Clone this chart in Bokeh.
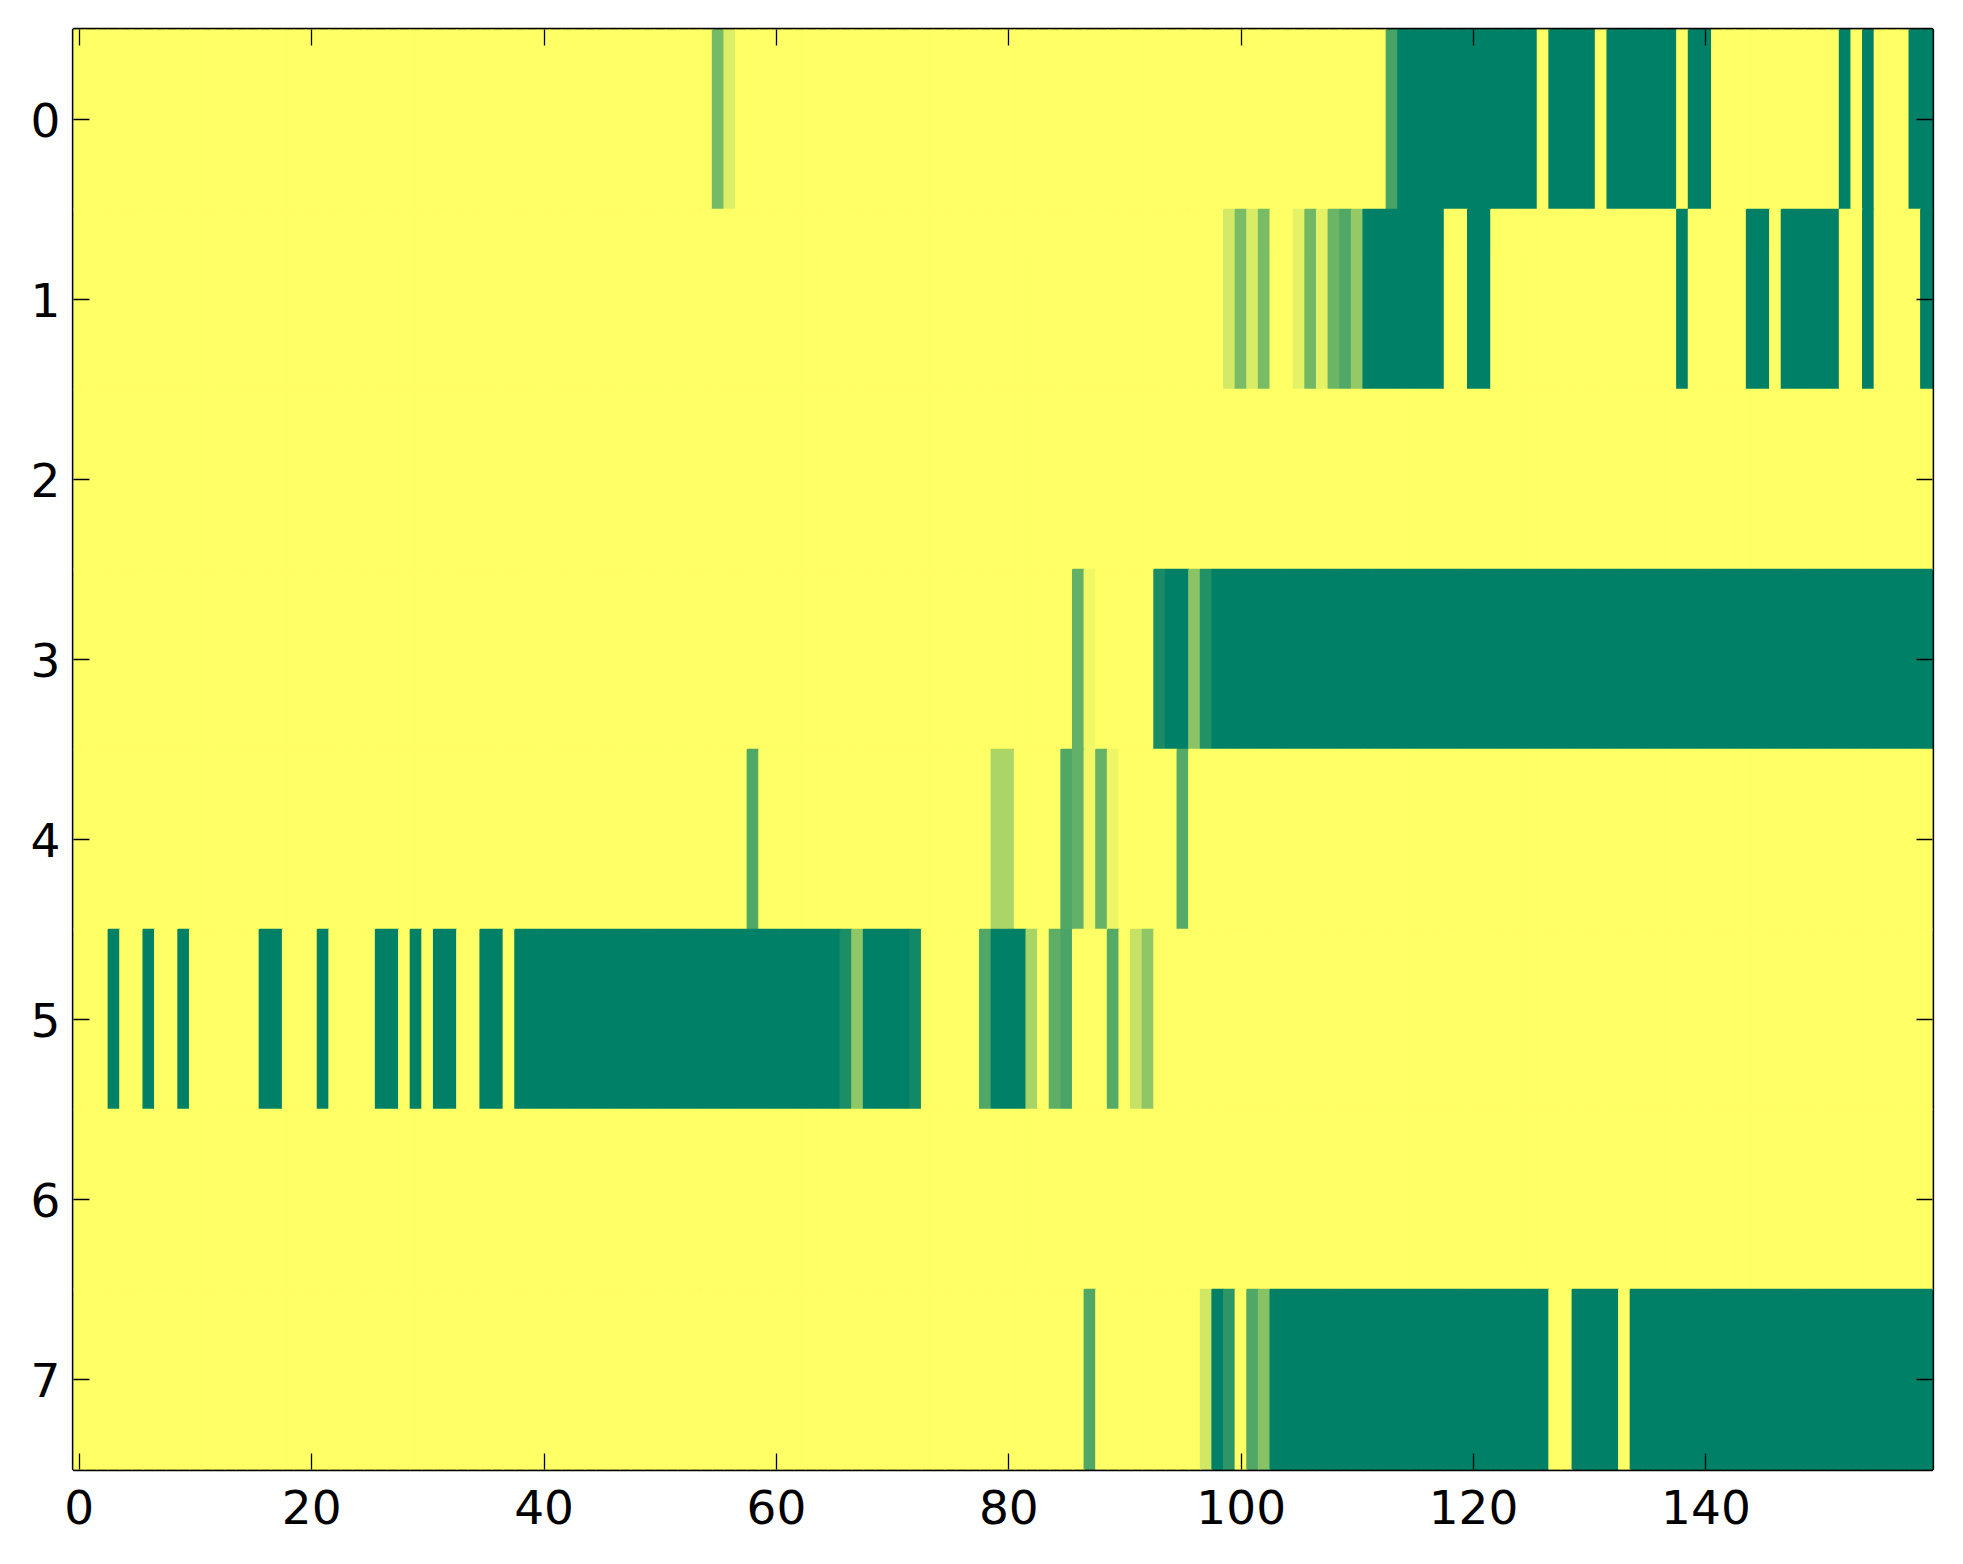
import numpy as np
from bokeh.plotting import figure
from bokeh.models import Range1d, LinearAxis, FixedTicker, LinearColorMapper, ColumnDataSource
from bokeh.transform import transform
from bokeh.embed import file_html
from bokeh.resources import INLINE

N_COLS = 160
N_ROWS = 8

# cell values, as (first column, last column, value) runs; all other cells are 0
row0_runs = [(55, 55, 0.54), (56, 56, 0.14), (113, 113, 0.72), (114, 125, 1.0), (127, 130, 1.0),
             (132, 137, 1.0), (139, 140, 1.0), (152, 152, 1.0), (154, 154, 1.0), (158, 159, 1.0)]
row1_runs = [(99, 99, 0.17), (100, 100, 0.52), (101, 101, 0.15), (102, 102, 0.53), (105, 105, 0.10),
             (106, 106, 0.56), (107, 107, 0.10), (108, 108, 0.58), (109, 109, 0.68), (110, 110, 0.42),
             (111, 117, 1.0), (120, 121, 1.0), (138, 138, 1.0), (144, 145, 1.0), (147, 151, 1.0),
             (154, 154, 1.0), (159, 159, 1.0)]
row2_runs = []
row3_runs = [(86, 86, 0.61), (87, 87, 0.06), (93, 93, 0.90), (94, 95, 1.0), (96, 96, 0.46),
             (97, 97, 0.86), (98, 159, 1.0)]
row4_runs = [(58, 58, 0.68), (79, 80, 0.33), (85, 85, 0.68), (86, 86, 0.61), (87, 87, 0.06),
             (88, 88, 0.60), (89, 89, 0.07), (95, 95, 0.67)]
row5_runs = [(3, 3, 1.0), (6, 6, 1.0), (9, 9, 1.0), (16, 17, 1.0), (21, 21, 1.0), (26, 27, 1.0),
             (29, 29, 1.0), (31, 32, 1.0), (35, 36, 1.0), (38, 65, 1.0), (66, 66, 0.89), (67, 67, 0.44),
             (68, 71, 1.0), (72, 72, 0.93), (78, 78, 0.68), (79, 81, 1.0), (82, 82, 0.34), (84, 84, 0.63),
             (85, 85, 0.71), (89, 89, 0.67), (91, 91, 0.23), (92, 92, 0.44)]
row6_runs = []
row7_runs = [(87, 87, 0.68), (97, 97, 0.18), (98, 98, 1.0), (99, 99, 0.82), (101, 101, 0.68),
             (102, 102, 0.47), (103, 126, 1.0), (129, 132, 1.0), (134, 159, 1.0)]

all_runs = [row0_runs, row1_runs, row2_runs, row3_runs, row4_runs, row5_runs, row6_runs, row7_runs]

x_ticks = [0, 20, 40, 60, 80, 100, 120, 140]
y_ticks = [0, 1, 2, 3, 4, 5, 6, 7]

grid = np.zeros((N_ROWS, N_COLS))
for r, runs in enumerate(all_runs):
    for a, b, v in runs:
        grid[r, a:b + 1] = v

rows, cols = np.meshgrid(np.arange(N_ROWS), np.arange(N_COLS), indexing="ij")
src = ColumnDataSource(dict(
    left=(cols - 0.5).ravel(), right=(cols + 0.5).ravel(),
    top=(rows - 0.5).ravel(), bottom=(rows + 0.5).ravel(),
    v=grid.ravel()))

# matplotlib "summer_r" colormap
def summer_r(t):
    x = 1.0 - t
    r, g, b = x, 0.5 + 0.5 * x, 0.4
    return "#%02x%02x%02x" % (int(round(r * 255)), int(round(g * 255)), int(round(b * 255)))

palette = [summer_r(i / 255) for i in range(256)]
mapper = LinearColorMapper(palette=palette, low=0.0, high=1.0)

p = figure(width=1952, height=1554, output_backend="svg", toolbar_location=None,
           x_range=Range1d(-0.5, 159.5), y_range=Range1d(7.5, -0.5),
           min_border_left=73, min_border_right=20, min_border_top=29, min_border_bottom=85,
           x_axis_location=None, y_axis_location=None)
p.grid.visible = False
p.background_fill_color = "white"
p.border_fill_color = "white"
p.outline_line_color = "black"
p.outline_line_width = 3.3

p.quad(left="left", right="right", top="top", bottom="bottom", source=src,
       fill_color=transform("v", mapper), line_color=transform("v", mapper), line_width=1.5)

FONT = "DejaVu Sans"

def make_axis(ticks, show_labels):
    ax = LinearAxis(ticker=FixedTicker(ticks=ticks))
    ax.axis_line_color = None
    ax.major_tick_in = 16
    ax.major_tick_out = 0
    ax.major_tick_line_color = "black"
    ax.major_tick_line_width = 1.3
    ax.minor_tick_line_color = None
    ax.major_label_text_font = FONT
    if show_labels:
        ax.major_label_text_font_size = "47px"
        ax.major_label_text_color = "black"
    else:
        ax.major_label_text_font_size = "0px"
        ax.major_label_text_color = None
    return ax

bottom_ax = make_axis(x_ticks, True)
bottom_ax.major_label_standoff = 20
left_ax = make_axis(y_ticks, True)
left_ax.major_label_standoff = 13
p.add_layout(bottom_ax, "below")
p.add_layout(left_ax, "left")
p.add_layout(make_axis(x_ticks, False), "above")
p.add_layout(make_axis(y_ticks, False), "right")

open("out.html", "w").write(file_html(p, INLINE))
